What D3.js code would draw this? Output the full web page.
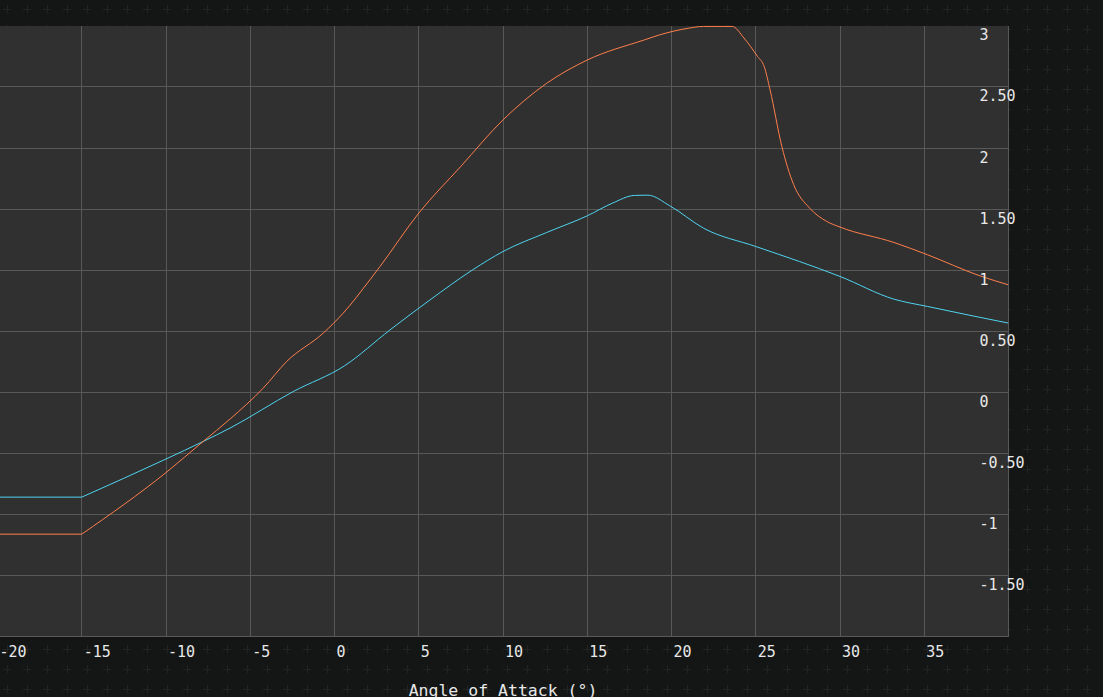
<!DOCTYPE html>
<html>
<head>
<meta charset="utf-8">
<script src="https://cdn.jsdelivr.net/npm/d3@7"></script>
<style>
  html, body { margin: 0; padding: 0; background: #141615; overflow: hidden; }
  svg { display: block; }
  text { font-family: "DejaVu Sans Mono", monospace; fill: #e8e8e8; }
</style>
</head>
<body>
<svg id="chart"></svg>
<script>
// orange curve (upper one, stalls after ~23 deg)
const orangeAngles = [-20, -15, -10, -7.8, -6.2, -4.23, -2.84, -0.67, 0.52, 2.1, 2.7, 5, 7.5, 10, 12.6, 15, 18.4, 19.3, 21, 21.9, 23.6, 24.3, 25.1, 25.5, 25.85, 26.55, 27.25, 28.2, 29.2, 30, 33.2, 35.2, 38.3, 40];
const orangeValues = [-1.16, -1.16, -0.656, -0.402, -0.218, 0.035, 0.253, 0.485, 0.649, 0.921, 1.03, 1.467, 1.85, 2.23, 2.53, 2.72, 2.885, 2.926, 2.98, 2.995, 2.995, 2.9, 2.75, 2.667, 2.476, 2.012, 1.70, 1.508, 1.40, 1.353, 1.227, 1.126, 0.954, 0.88];

// blue curve
const blueAngles = [-20, -15, -10, -7.8, -6.2, -2.45, 0.6, 3.3, 5.67, 8.2, 10, 12.6, 15, 16.5, 17.8, 18.6, 19.9, 21.9, 25, 27.6, 30, 33.2, 35.2, 40];
const blueValues = [-0.857, -0.857, -0.545, -0.402, -0.292, 0.007, 0.218, 0.512, 0.757, 1.003, 1.153, 1.309, 1.445, 1.549, 1.612, 1.614, 1.527, 1.344, 1.194, 1.071, 0.949, 0.763, 0.703, 0.567];

const xTicks = [-20, -15, -10, -5, 0, 5, 10, 15, 20, 25, 30, 35];
const xGrid = [-15, -10, -5, 0, 5, 10, 15, 20, 25, 30, 35, 40];
const yTicks = [3, 2.5, 2, 1.5, 1, 0.5, 0, -0.5, -1, -1.5];
const yGrid = [2.5, 2, 1.5, 1, 0.5, 0, -0.5, -1, -1.5, -2];
const xTitle = 'Angle of Attack (°)';

const width = 1103, height = 697;
const svg = d3.select('#chart').attr('width', width).attr('height', height);

// background cross pattern
const defs = svg.append('defs');
const pat = defs.append('pattern')
  .attr('id', 'crosses')
  .attr('patternUnits', 'userSpaceOnUse')
  .attr('width', 20).attr('height', 20)
  .attr('x', -3).attr('y', -1);
pat.append('path')
  .attr('d', 'M6,10.5H14M10.5,6V14')
  .attr('stroke', '#212423')
  .attr('stroke-width', 1);

svg.append('rect').attr('width', width).attr('height', height).attr('fill', '#141615');
svg.append('rect').attr('width', width).attr('height', height).attr('fill', 'url(#crosses)');

const x = d3.scaleLinear().domain([-20, 40]).range([-2.5, 1008.5]);
const y = d3.scaleLinear().domain([-2, 3]).range([636.8, 25.8]);

const plotTop = 26, plotBottom = 637;

svg.append('rect')
  .attr('x', x(-20)).attr('y', plotTop)
  .attr('width', x(40) - x(-20) + 0.5)
  .attr('height', plotBottom - plotTop)
  .attr('fill', '#303030');

defs.append('clipPath').attr('id', 'plotClip')
  .append('rect')
  .attr('x', x(-20)).attr('y', plotTop - 1)
  .attr('width', x(40) - x(-20)).attr('height', plotBottom - plotTop + 1);

const grid = svg.append('g').attr('class', 'grid')
  .attr('stroke', '#585858').attr('stroke-width', 1)
  .attr('shape-rendering', 'crispEdges');

grid.selectAll('line.v')
  .data(xGrid)
  .join('line')
  .attr('class', 'v')
  .attr('x1', d => x(d)).attr('x2', d => x(d))
  .attr('y1', plotTop).attr('y2', plotBottom);

grid.selectAll('line.h')
  .data(yGrid)
  .join('line')
  .attr('class', 'h')
  .attr('x1', x(-20)).attr('x2', x(40) + 0.5)
  .attr('y1', d => y(d)).attr('y2', d => y(d));

// flat section before -15 is straight, the rest is smoothed
const flatLine = d3.line().x(d => x(d[0])).y(d => y(d[1]));
const smoothLine = d3.line()
  .x(d => x(d[0]))
  .y(d => y(d[1]))
  .curve(d3.curveMonotoneX);

const lines = svg.append('g').attr('clip-path', 'url(#plotClip)');

function drawSeries(angles, values, color) {
  let pts = d3.zip(angles, values);
  lines.append('path')
    .datum(pts.filter(d => d[0] <= -15))
    .attr('fill', 'none')
    .attr('stroke', color)
    .attr('stroke-width', 1)
    .attr('d', flatLine);
  lines.append('path')
    .datum(pts.filter(d => d[0] >= -15))
    .attr('fill', 'none')
    .attr('stroke', color)
    .attr('stroke-width', 1)
    .attr('d', smoothLine);
}

drawSeries(blueAngles, blueValues, '#4fd4f0');
drawSeries(orangeAngles, orangeValues, '#ff7f4c');

// x tick labels (left aligned just right of the grid line)
svg.append('g').selectAll('text')
  .data(xTicks)
  .join('text')
  .attr('x', d => x(d) + 2)
  .attr('y', 657)
  .attr('font-size', 15)
  .text(d => d3.format('d')(d).replace('−', '-'));

// y tick labels, inside the plot at the right
const yFmt = d => (Number.isInteger(d) ? d3.format('d')(d) : d3.format('.2f')(d)).replace('−', '-');
svg.append('g').selectAll('text')
  .data(yTicks)
  .join('text')
  .attr('x', 979.5)
  .attr('y', d => y(d) + 14.5)
  .attr('font-size', 15)
  .text(yFmt);

svg.append('text')
  .attr('x', (x(-20) + x(40)) / 2)
  .attr('y', 696)
  .attr('text-anchor', 'middle')
  .attr('font-size', 16.5)
  .text(xTitle);
</script>
</body>
</html>
